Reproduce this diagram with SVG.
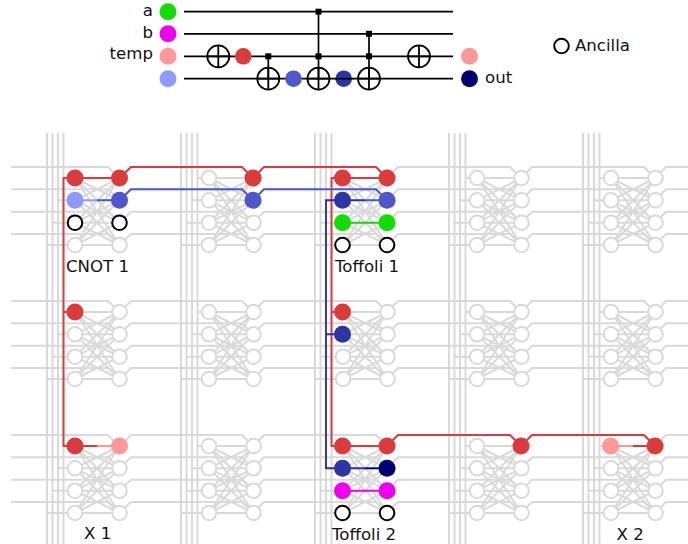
<svg xmlns="http://www.w3.org/2000/svg" xmlns:xlink="http://www.w3.org/1999/xlink" width="688" height="544" viewBox="0 0 688 544">
<style>
text{font-family:"DejaVu Sans",sans-serif;font-size:16.6px;fill:#111}
.g{fill:none;stroke:#d9d9d9;stroke-width:2}
.q{fill:#fff;stroke:#d9d9d9;stroke-width:2}
.w{fill:none;stroke:#000;stroke-width:1.7}
.xr{fill:none;stroke:#000;stroke-width:1.8}
.an{fill:#fff;stroke:#000;stroke-width:2}
.c{fill:#000}
.l{fill:none;stroke-width:1.9}
.red{fill:#dc3b3e}.pink{fill:#ff9999}.lb{fill:#9099ff}.mb{fill:#4e58cc}.db{fill:#2b35a3}.gr{fill:#11dd00}.mg{fill:#ee00ee}.nv{fill:#000070}
</style>
<defs>
<path id="h" class="g" d="M11 0H108L119.500 11L131 0H242L253 11L264 0H376L387 11L398 0H510L521 11L532 0H644L655 11L666 0H688"/>
<g id="vb"><path class="g" d="M47 133V544M52.500 133V544M58 133V544M63.500 133V544"/></g>
<g id="cell">
<path class="g" d="M47 67H75M52.500 44.700H75M58 22.300H75M63.500 0H75"/>
<path class="g" d="M75 0L119.500 0M75 0L119.500 22.300M75 0L119.500 44.700M75 0L119.500 67M75 22.300L119.500 0M75 22.300L119.500 22.300M75 22.300L119.500 44.700M75 22.300L119.500 67M75 44.700L119.500 0M75 44.700L119.500 22.300M75 44.700L119.500 44.700M75 44.700L119.500 67M75 67L119.500 0M75 67L119.500 22.300M75 67L119.500 44.700M75 67L119.500 67"/>
<circle class="q" cx="75" cy="0" r="7.300"/><circle class="q" cx="75" cy="22.300" r="7.300"/><circle class="q" cx="75" cy="44.700" r="7.300"/><circle class="q" cx="75" cy="67" r="7.300"/>
<circle class="q" cx="119.500" cy="0" r="7.300"/><circle class="q" cx="119.500" cy="22.300" r="7.300"/><circle class="q" cx="119.500" cy="44.700" r="7.300"/><circle class="q" cx="119.500" cy="67" r="7.300"/>
</g>
<g id="xor"><circle class="xr" cx="0" cy="0" r="11"/><path class="xr" d="M-11 0H11M0 -11V11"/></g>
</defs>

<g id="fabric">
<use xlink:href="#h" y="167"/><use xlink:href="#h" y="189.300"/><use xlink:href="#h" y="211.700"/><use xlink:href="#h" y="234"/>
<use xlink:href="#h" y="301"/><use xlink:href="#h" y="323.300"/><use xlink:href="#h" y="345.700"/><use xlink:href="#h" y="368"/>
<use xlink:href="#h" y="435"/><use xlink:href="#h" y="457.300"/><use xlink:href="#h" y="479.700"/><use xlink:href="#h" y="502"/>
<use xlink:href="#vb"/><use xlink:href="#vb" x="134"/><use xlink:href="#vb" x="268"/><use xlink:href="#vb" x="402"/><use xlink:href="#vb" x="536"/>
</g>
<g id="cell-0-0"><use xlink:href="#cell" y="178"/></g>
<g id="cell-0-1"><use xlink:href="#cell" x="134" y="178"/></g>
<g id="cell-0-2"><use xlink:href="#cell" x="268" y="178"/></g>
<g id="cell-0-3"><use xlink:href="#cell" x="402" y="178"/></g>
<g id="cell-0-4"><use xlink:href="#cell" x="536" y="178"/></g>
<g id="cell-1-0"><use xlink:href="#cell" y="312"/></g>
<g id="cell-1-1"><use xlink:href="#cell" x="134" y="312"/></g>
<g id="cell-1-2"><use xlink:href="#cell" x="268" y="312"/></g>
<g id="cell-1-3"><use xlink:href="#cell" x="402" y="312"/></g>
<g id="cell-1-4"><use xlink:href="#cell" x="536" y="312"/></g>
<g id="cell-2-0"><use xlink:href="#cell" y="446"/></g>
<g id="cell-2-1"><use xlink:href="#cell" x="134" y="446"/></g>
<g id="cell-2-2"><use xlink:href="#cell" x="268" y="446"/></g>
<g id="cell-2-3"><use xlink:href="#cell" x="402" y="446"/></g>
<g id="cell-2-4"><use xlink:href="#cell" x="536" y="446"/></g>

<g id="connectors">
<path class="l" stroke="#dc3b3e" d="M75 178H63.500V446H75M75 178H119.500L131 167H242L253 178L264 167H376L387 178M342.500 178H331.500V446H342.500M342.500 178H387M342.500 446H387L398 435H510L521 446L532 435H644L655 446M63.500 312H75M331.500 312H342.500M75 446H97M633 446H655"/>
<path class="l" stroke="#ff9999" d="M97 446H119.500M610.500 446H633"/>
<path class="l" stroke="#9099ff" d="M75 200.300H97"/>
<path class="l" stroke="#4e58cc" d="M97 200.300H119.500L131 189.300H242L253 200.300L264 189.300H376L387 200.300M365 200.300H387"/>
<path class="l" stroke="#2b35a3" d="M342.500 200.300H326V468.300H342.500M326 334.300H342.500M342.500 468.300H365M342.500 200.300H365"/>
<path class="l" stroke="#000070" d="M365 468.300H387"/>
<path class="l" stroke="#11dd00" d="M342.500 222.700H387"/>
<path class="l" stroke="#ee00ee" d="M342.500 490.700H387"/>
<path class="w" d="M184 11.700H453M184 33.800H453M184 56.300H453M184 78.700H453"/>
<path class="w" d="M268.300 56.300V78.700M318.500 11.700V78.700M369 33.800V78.700"/>
</g>

<g id="qubits">
<circle class="red" cx="75" cy="178" r="8.500"/><circle class="red" cx="119.500" cy="178" r="8.500"/>
<circle class="lb" cx="75" cy="200.300" r="8.500"/><circle class="mb" cx="119.500" cy="200.300" r="8.500"/>
<circle class="an" cx="75" cy="222.700" r="7.300"/><circle class="an" cx="119.500" cy="222.700" r="7.300"/>
<circle class="red" cx="253" cy="178" r="8.500"/><circle class="mb" cx="253" cy="200.300" r="8.500"/>
<circle class="red" cx="342.500" cy="178" r="8.500"/><circle class="red" cx="387" cy="178" r="8.500"/>
<circle class="db" cx="342.500" cy="200.300" r="8.500"/><circle class="mb" cx="387" cy="200.300" r="8.500"/>
<circle class="gr" cx="342.500" cy="222.700" r="8.500"/><circle class="gr" cx="387" cy="222.700" r="8.500"/>
<circle class="an" cx="342.500" cy="245" r="7.300"/><circle class="an" cx="387" cy="245" r="7.300"/>
<circle class="red" cx="75" cy="312" r="8.500"/>
<circle class="red" cx="342.500" cy="312" r="8.500"/><circle class="db" cx="342.500" cy="334.300" r="8.500"/>
<circle class="red" cx="75" cy="446" r="8.500"/><circle class="pink" cx="119.500" cy="446" r="8.500"/>
<circle class="red" cx="342.500" cy="446" r="8.500"/><circle class="red" cx="387" cy="446" r="8.500"/>
<circle class="db" cx="342.500" cy="468.300" r="8.500"/><circle class="nv" cx="387" cy="468.300" r="8.500"/>
<circle class="mg" cx="342.500" cy="490.700" r="8.500"/><circle class="mg" cx="387" cy="490.700" r="8.500"/>
<circle class="an" cx="342.500" cy="513" r="7.300"/><circle class="an" cx="387" cy="513" r="7.300"/>
<circle class="red" cx="521" cy="446" r="8.500"/>
<circle class="pink" cx="610.500" cy="446" r="8.500"/><circle class="red" cx="655" cy="446" r="8.500"/>
</g>

<g id="circuit">
<circle class="gr" cx="168" cy="11.700" r="8.500"/><circle class="mg" cx="168" cy="33.800" r="8.500"/><circle class="pink" cx="168" cy="56.300" r="8.500"/><circle class="lb" cx="168" cy="78.700" r="8.500"/>
<use xlink:href="#xor" x="218.300" y="56.300"/><use xlink:href="#xor" x="268.300" y="78.700"/><use xlink:href="#xor" x="318.500" y="78.700"/><use xlink:href="#xor" x="369" y="78.700"/><use xlink:href="#xor" x="419" y="56.300"/>
<circle class="red" cx="243.300" cy="56.300" r="8.300"/><circle class="mb" cx="293.500" cy="78.700" r="8.300"/><circle class="db" cx="343.700" cy="78.700" r="8.300"/>
<path class="w" d="M335 78.700H352.500"/>
<rect class="c" x="265.300" y="53.300" width="6" height="6"/><rect class="c" x="315.500" y="8.700" width="6" height="6"/><rect class="c" x="315.500" y="53.300" width="6" height="6"/><rect class="c" x="366" y="30.800" width="6" height="6"/><rect class="c" x="366" y="53.300" width="6" height="6"/>
<circle class="pink" cx="469.500" cy="56.300" r="8.500"/><circle class="nv" cx="469.500" cy="78.700" r="8.500"/>
</g>
<g id="legend"><circle class="an" cx="561.500" cy="46" r="7.300"/><text x="575" y="50.500">Ancilla</text></g>

<g id="labels">
<text x="153" y="15.500" text-anchor="end">a</text>
<text x="153" y="38" text-anchor="end">b</text>
<text x="153" y="59" text-anchor="end">temp</text>
<text x="485" y="83">out</text>
<text x="66" y="271.500">CNOT 1</text>
<text x="335" y="271.500">Toffoli 1</text>
<text x="84" y="538.500">X 1</text>
<text x="332" y="540">Toffoli 2</text>
<text x="616.500" y="539.500">X 2</text>
</g>
</svg>
